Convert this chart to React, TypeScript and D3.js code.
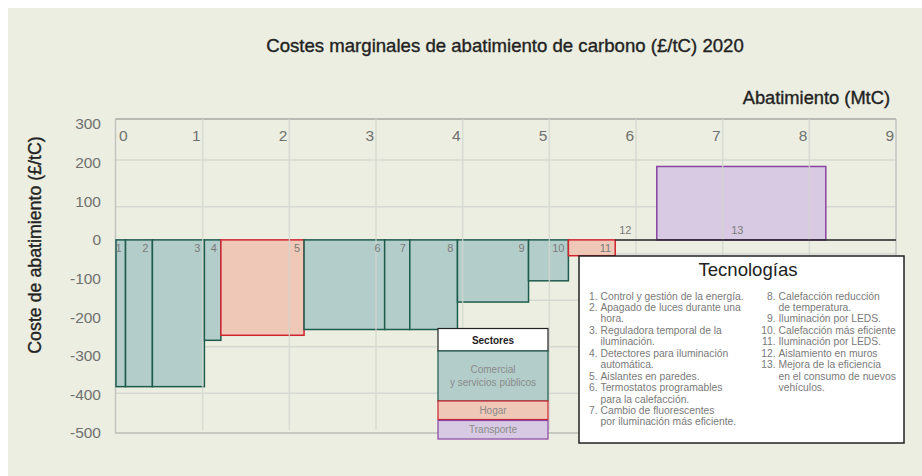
import React from "react";
import * as d3 from "d3";

// ---- Data ----
const measureIds = ["1", "2", "3", "4", "5", "6", "7", "8", "9", "10", "11", "12", "13"];
const abatementWidths = [0.11, 0.31, 0.6, 0.19, 0.96, 0.93, 0.29, 0.55, 0.82, 0.46, 0.54, 0.48, 1.95]; // MtC
const marginalCosts = [-380, -380, -380, -260, -247, -232, -232, -232, -161, -106, -41, 0, 190]; // £/tC
const measureSectors = ["C", "C", "C", "C", "H", "C", "C", "C", "C", "C", "H", "H", "T"];

const xTicks = [0, 1, 2, 3, 4, 5, 6, 7, 8, 9];
const yTicks = [300, 200, 100, 0, -100, -200, -300, -400, -500];
const gridRows = [207, 86, -36, -156, -277, -397];

const sectorKeys = ["C", "H", "T"];
const sectorNames = [["Comercial", "y servicios públicos"], ["Hogar"], ["Transporte"]];

const techLeft = [
  ["1.", "Control y gestión de la energía."],
  ["2.", "Apagado de luces durante una", "hora."],
  ["3.", "Reguladora temporal de la", "iluminación."],
  ["4.", "Detectores para iluminación", "automática."],
  ["5.", "Aislantes en paredes."],
  ["6.", "Termostatos programables", "para la calefacción."],
  ["7.", "Cambio de fluorescentes", "por iluminación más eficiente."],
];
const techRight = [
  ["8.", "Calefacción reducción", "de temperatura."],
  ["9.", "Iluminación por LEDS."],
  ["10.", "Calefacción más eficiente"],
  ["11.", "Iluminación por LEDS."],
  ["12.", "Aislamiento en muros"],
  ["13.", "Mejora de la eficiencia", "en el consumo de nuevos", "vehículos."],
];

const TITLE = "Costes marginales de abatimiento de carbono (£/tC) 2020";
const X_TITLE = "Abatimiento (MtC)";
const Y_TITLE = "Coste de abatimiento (£/tC)";

const FILL: Record<string, string> = { C: "#b3ceca", H: "#efc8b7", T: "#d8cae3" };
const STROKE: Record<string, string> = { C: "#1d5c4d", H: "#cf2330", T: "#8a44a3" };

const FONT = "'Liberation Sans', Arial, Helvetica, sans-serif";

export default function App() {
  const W = 922;
  const H = 476;
  const x = d3.scaleLinear().domain([0, 9]).range([116, 896]);
  const y = d3.scaleLinear().domain([-500, 300]).range([433, 124]);

  const starts = d3.cumsum([0, ...abatementWidths.slice(0, -1)]);
  const bars = measureIds.map((id, i) => ({
    id,
    x0: starts[i],
    x1: starts[i] + abatementWidths[i],
    v: marginalCosts[i],
    s: measureSectors[i],
  }));

  const frameTop = 119;
  const frameBottom = 433;
  const y0 = y(0);

  const legendX = 438;
  const legendW = 110;
  const legendRows = [
    { y: 351, h: 50 },
    { y: 401, h: 18.5 },
    { y: 420.5, h: 18.5 },
  ];

  const techX = 579;
  const techY = 256;
  const techW = 325;
  const techH = 187;
  const lineH = 11.45;

  const renderTech = (items: string[][], numX: number) => {
    let row = 0;
    const out: React.ReactNode[] = [];
    items.forEach((it, k) => {
      const ty = 299.5 + row * lineH;
      out.push(
        <text key={"n" + k} x={numX} y={ty} textAnchor="end">{it[0]}</text>
      );
      it.slice(1).forEach((ln, j) => {
        out.push(
          <text key={"t" + k + "_" + j} x={numX + 3} y={299.5 + (row + j) * lineH}>{ln}</text>
        );
      });
      row += it.length - 1;
    });
    return out;
  };

  const zeroLineStart = bars[11].x0;
  const heavy = { stroke: "#222", strokeWidth: 0.35 };

  return (
    <svg
      width={W}
      height={H}
      style={{ position: "fixed", left: 0, top: 0, display: "block" }}
      fontFamily={FONT}
    >
      <rect x={8} y={8} width={W} height={H} fill="#ebeee0" />

      {/* title */}
      <text x={505} y={51.5} textAnchor="middle" fontSize={18.6} fill="#222" {...heavy}>
        {TITLE}
      </text>
      <text x={890} y={104} textAnchor="end" fontSize={18.3} fill="#222" {...heavy}>
        {X_TITLE}
      </text>
      <text
        transform={`translate(40.5,245) rotate(-90)`}
        textAnchor="middle"
        fontSize={17.8}
        fill="#222"
        {...heavy}
      >
        {Y_TITLE}
      </text>

      {/* horizontal grid (behind bars) */}
      {gridRows.map((g) => (
        <line key={g} x1={116} x2={896} y1={y(g)} y2={y(g)} stroke="#d6d8d2" strokeWidth={1.5} />
      ))}

      {/* frame */}
      <line x1={115} x2={896} y1={frameTop} y2={frameTop} stroke="#a9aaa5" strokeWidth={1.5} />
      <line x1={115.5} x2={115.5} y1={frameTop} y2={frameBottom} stroke="#c4c5c0" strokeWidth={1.5} />
      <line x1={896} x2={896} y1={frameTop} y2={frameBottom} stroke="#c4c5c0" strokeWidth={1.5} />
      <line x1={115} x2={896} y1={frameBottom} y2={frameBottom} stroke="#bdbeb9" strokeWidth={1.5} />

      {/* bars */}
      {bars.map((b) => (
        <rect
          key={b.id}
          x={x(b.x0)}
          y={Math.min(y(b.v), y0)}
          width={x(b.x1) - x(b.x0)}
          height={Math.abs(y(b.v) - y0)}
          fill={FILL[b.s]}
          stroke={STROKE[b.s]}
          strokeWidth={1.5}
        />
      ))}

      {/* vertical grid (drawn over bars) */}
      {xTicks.slice(1, -1).map((t) => (
        <line key={t} x1={x(t)} x2={x(t)} y1={frameTop} y2={430} stroke="#d4d6d0" strokeWidth={1.5} opacity={0.75} />
      ))}

      {/* zero line on the right part */}
      <line x1={x(zeroLineStart)} x2={x(9)} y1={y0} y2={y0} stroke="#222" strokeWidth={1.5} />

      {/* bar labels */}
      {bars.map((b, i) => {
        if (b.v < 0) {
          return (
            <text key={"l" + b.id} x={x(b.x1) - 4} y={y0 + 12} textAnchor="end" fontSize={11} fill="#7a7a7a">
              {b.id}
            </text>
          );
        }
        const mid = i === 11 ? x(b.x0) + 4 : (x(b.x0) + x(b.x1)) / 2 - 4;
        return (
          <text
            key={"l" + b.id}
            x={mid}
            y={y0 - 6}
            textAnchor={i === 11 ? "start" : "middle"}
            fontSize={11}
            fill="#7a7a7a"
          >
            {b.id}
          </text>
        );
      })}

      {/* axis tick labels */}
      {yTicks.map((t) => (
        <text key={t} x={101} y={y(t)} dy="0.35em" textAnchor="end" fontSize={15.5} fill="#707070">
          {t}
        </text>
      ))}
      {xTicks.map((t) => (
        <text
          key={t}
          x={t === 0 ? x(t) + 3 : x(t) - 2}
          y={140.5}
          textAnchor={t === 0 ? "start" : "end"}
          fontSize={15.5}
          fill="#707070"
        >
          {t}
        </text>
      ))}

      {/* Sectores legend */}
      <rect x={legendX} y={328.5} width={legendW} height={22.5} fill="#ffffff" stroke="#222" strokeWidth={1.2} />
      <text x={legendX + legendW / 2} y={343.5} textAnchor="middle" fontSize={10} fontWeight={600} fill="#222">
        Sectores
      </text>
      {sectorKeys.map((k, i) => (
        <g key={k}>
          <rect
            x={legendX}
            y={legendRows[i].y}
            width={legendW}
            height={legendRows[i].h}
            fill={FILL[k]}
            stroke={STROKE[k]}
            strokeWidth={1.2}
          />
          {sectorNames[i].map((ln, j) => (
            <text
              key={j}
              x={legendX + legendW / 2}
              y={legendRows[i].y + legendRows[i].h / 2 + (j - (sectorNames[i].length - 1) / 2) * 13}
              dy="0.35em"
              textAnchor="middle"
              fontSize={10}
              fill="#8a8a8a"
            >
              {ln}
            </text>
          ))}
        </g>
      ))}

      {/* Tecnologías box */}
      <rect x={techX} y={techY} width={techW} height={techH} fill="#ffffff" stroke="#222" strokeWidth={1.5} />
      <text x={748} y={276} textAnchor="middle" fontSize={18.6} fill="#222">
        Tecnologías
      </text>
      <g fontSize={10.3} fill="#7a7a7a">
        {renderTech(techLeft, 597.5)}
        {renderTech(techRight, 775.5)}
      </g>
    </svg>
  );
}
